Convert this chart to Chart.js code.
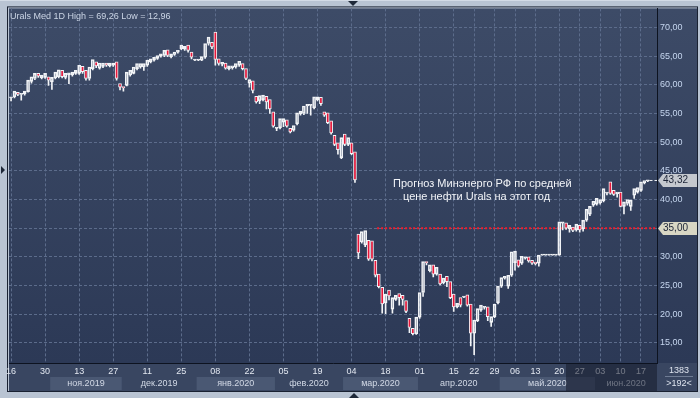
<!DOCTYPE html>
<html>
<head>
<meta charset="utf-8">
<script src="https://cdn.jsdelivr.net/npm/chart.js@4.4.1/dist/chart.umd.min.js"></script>
<style>
html, body { margin: 0; padding: 0; background: #b9c4d3; }
canvas { display: block; }
</style>
</head>
<body>
<canvas id="chart" width="700" height="398"></canvas>
<script>
// Urals Med, daily candles 16.10.2019 - 17.06.2020
var opens = [
  57.7, 57.9, 58.7, 58.3, 58.4, 58.8, 60.6, 61.1, 62.0, 61.2,
  61.3, 61.4, 60.5, 61.2, 61.4, 62.5, 61.3, 61.7, 61.7, 62.0,
  62.0, 63.2, 62.5, 61.1, 62.8, 64.0, 62.9, 63.2, 63.8, 63.3,
  63.4, 64.0, 60.2, 59.7, 59.9, 61.7, 62.0, 62.8, 63.1, 63.1,
  63.4, 64.0, 64.3, 64.6, 65.0, 65.1, 66.1, 64.9, 65.3, 65.7,
  66.3, 66.2, 66.9, 65.7, 64.3, 64.3, 64.3, 64.8, 67.2, 67.4,
  69.2, 64.5, 63.6, 63.8, 62.8, 63.0, 63.1, 63.4, 63.7, 62.8,
  60.3, 60.7, 58.0, 57.2, 57.4, 58.0, 57.4, 55.3, 52.4, 52.5,
  53.5, 53.9, 52.4, 52.1, 53.2, 54.9, 55.0, 56.3, 56.4, 56.0,
  57.4, 57.8, 55.3, 55.1, 53.7, 51.2, 49.9, 47.3, 51.4, 49.6,
  49.9, 48.3, 34.0, 32.6, 32.1, 32.9, 32.8, 29.4, 27.0, 24.7,
  22.0, 24.2, 20.9, 22.6, 23.6, 23.3, 22.4, 19.3, 17.55, 16.6,
  19.5, 23.8, 29.1, 27.6, 28.6, 27.0, 27.0, 25.5, 26.6, 25.7,
  23.5, 21.3, 22.9, 23.0, 23.4, 21.8, 16.7, 18.9, 20.7, 21.2,
  21.3, 18.6, 19.6, 22.0, 24.9, 26.3, 24.9, 26.8, 29.0, 29.5,
  28.9, 29.8, 30.0, 29.4, 29.1, 28.9, 30.3, 30.3, 30.3, 30.3,
  30.3, 30.3, 35.9, 35.95, 34.9, 35.2, 34.7, 35.5, 34.9, 36.4,
  37.45, 39.0, 39.2, 39.4, 39.8, 41.1, 43.1, 41.6, 41.0, 41.3,
  38.8, 39.3, 38.8, 40.75, 41.3, 41.6, 42.9, 43.25
];
var highs = [
  58.2, 59.1, 59.0, 58.8, 59.2, 61.0, 61.7, 62.3, 62.2, 62.0,
  62.3, 61.6, 61.5, 62.4, 62.9, 62.8, 62.2, 62.3, 62.5, 62.8,
  63.8, 63.5, 62.7, 63.3, 64.6, 64.2, 64.1, 64.0, 64.0, 64.0,
  64.5, 64.5, 60.4, 59.9, 62.4, 62.8, 63.4, 64.0, 63.9, 63.9,
  64.6, 64.8, 65.1, 65.4, 65.7, 66.2, 66.3, 65.6, 65.9, 66.2,
  67.1, 67.0, 67.2, 65.9, 64.5, 64.5, 65.1, 68.0, 69.0, 67.8,
  69.26, 64.8, 64.1, 64.0, 63.5, 63.5, 63.9, 64.4, 63.9, 63.0,
  61.0, 60.9, 58.2, 58.6, 58.8, 58.2, 57.6, 55.5, 52.7, 54.3,
  55.1, 54.1, 52.6, 53.2, 55.3, 55.6, 56.5, 56.8, 56.7, 58.1,
  58.6, 58.0, 55.5, 55.3, 53.9, 51.4, 50.0, 51.0, 51.8, 51.0,
  50.1, 48.5, 34.7, 35.0, 36.2, 33.2, 33.0, 29.6, 28.3, 24.9,
  23.8, 26.5, 23.1, 24.2, 24.2, 23.9, 22.6, 19.7, 17.7, 19.7,
  24.0, 30.1, 29.3, 29.4, 29.2, 29.4, 29.4, 26.5, 27.4, 25.9,
  23.7, 22.1, 23.3, 23.2, 23.8, 22.0, 19.2, 21.2, 21.8, 21.5,
  21.5, 19.8, 22.0, 25.1, 26.8, 26.8, 27.0, 31.1, 31.2, 29.7,
  30.6, 30.2, 30.2, 29.6, 29.3, 30.5, 30.3, 30.3, 30.3, 30.3,
  30.3, 36.1, 36.4, 36.2, 35.7, 35.4, 35.9, 35.8, 36.6, 38.5,
  39.0, 39.9, 40.4, 40.3, 42.7, 42.2, 43.4, 41.8, 41.6, 41.5,
  39.8, 40.0, 40.1, 42.1, 42.2, 43.3, 43.8, 44.4
];
var lows = [
  57.2, 57.7, 58.1, 57.3, 58.2, 58.7, 60.3, 60.9, 61.3, 61.0,
  61.1, 59.9, 59.2, 61.0, 61.2, 61.2, 61.0, 60.2, 61.5, 61.8,
  61.8, 62.0, 60.8, 60.8, 62.6, 63.0, 62.7, 63.0, 63.2, 63.1,
  63.2, 60.8, 59.1, 58.9, 59.8, 61.5, 61.9, 62.6, 62.9, 62.5,
  63.2, 63.8, 64.1, 64.4, 64.8, 64.9, 64.9, 64.7, 65.1, 65.5,
  66.1, 66.0, 65.7, 64.5, 64.2, 64.2, 64.2, 64.6, 66.9, 66.3,
  63.4, 63.4, 63.3, 62.7, 62.6, 62.7, 62.9, 63.2, 62.6, 60.9,
  59.6, 58.6, 56.8, 56.7, 57.2, 55.8, 55.0, 52.6, 52.0, 52.3,
  52.7, 52.6, 51.6, 51.9, 53.0, 54.7, 54.8, 55.0, 54.7, 55.8,
  57.2, 56.4, 54.5, 53.2, 51.4, 49.4, 47.9, 47.1, 49.4, 49.4,
  47.8, 43.0, 29.7, 32.4, 31.8, 29.4, 29.3, 26.5, 24.6, 20.2,
  20.1, 22.5, 20.2, 22.4, 21.6, 21.6, 20.3, 16.8, 16.4, 16.5,
  19.3, 23.1, 28.6, 27.4, 26.5, 26.8, 25.1, 25.3, 24.8, 22.7,
  20.5, 21.1, 21.3, 22.9, 21.4, 14.5, 12.96, 18.7, 20.5, 20.9,
  18.9, 17.9, 19.4, 21.8, 24.7, 26.1, 24.5, 26.6, 27.7, 28.2,
  28.7, 29.6, 29.1, 28.7, 28.6, 28.4, 30.3, 30.3, 30.3, 30.3,
  30.3, 30.3, 34.7, 34.8, 34.3, 34.4, 34.5, 34.3, 34.5, 36.2,
  37.2, 38.8, 39.0, 39.2, 39.6, 40.8, 40.9, 40.7, 40.4, 38.7,
  37.5, 39.0, 38.1, 40.2, 41.1, 41.4, 42.7, 43.1
];
var closes = [
  57.9, 58.9, 58.3, 58.5, 58.9, 60.8, 61.4, 62.0, 61.5, 61.7,
  62.0, 60.8, 61.3, 62.2, 62.6, 61.4, 62.0, 62.1, 62.2, 62.5,
  63.4, 62.3, 61.1, 63.1, 64.4, 63.3, 63.8, 63.8, 63.4, 63.8,
  63.8, 61.1, 59.6, 59.5, 62.2, 62.5, 63.1, 63.7, 63.7, 63.7,
  64.3, 64.5, 64.8, 65.1, 65.4, 66.0, 65.1, 65.4, 65.7, 66.0,
  66.9, 66.7, 66.0, 64.8, 64.4, 64.4, 64.9, 67.2, 68.3, 66.6,
  64.4, 63.7, 63.9, 62.9, 63.3, 63.3, 63.7, 64.1, 62.8, 61.1,
  60.9, 59.0, 57.0, 58.1, 58.2, 57.0, 55.8, 52.8, 52.6, 54.1,
  54.1, 52.8, 51.8, 52.9, 55.1, 55.4, 56.3, 56.6, 56.5, 57.9,
  57.9, 56.7, 54.7, 53.4, 51.6, 49.6, 48.7, 50.8, 49.6, 50.8,
  48.0, 43.4, 30.7, 34.4, 34.6, 29.6, 29.6, 26.8, 24.8, 21.8,
  23.5, 23.2, 22.9, 23.3, 22.9, 22.6, 20.5, 17.7, 16.6, 19.5,
  23.8, 29.2, 29.0, 28.6, 27.0, 28.2, 25.3, 26.3, 25.7, 22.9,
  21.3, 21.9, 21.6, 23.1, 21.6, 16.7, 19.0, 21.0, 21.6, 21.3,
  19.6, 19.6, 21.8, 24.9, 26.4, 26.6, 26.8, 30.9, 31.0, 28.4,
  30.1, 30.0, 29.3, 28.9, 28.8, 30.3, 30.3, 30.3, 30.3, 30.3,
  30.3, 36.1, 36.1, 35.0, 35.5, 34.6, 35.7, 34.7, 36.4, 38.3,
  38.8, 39.7, 40.2, 40.0, 41.9, 41.3, 41.05, 40.9, 41.3, 38.8,
  39.6, 40.0, 39.9, 41.9, 42.1, 43.1, 43.3, 43.32
];

// date ticks (bar index -> day of month)
var dayTickIndex = [0, 10, 20, 30, 40, 50, 60, 70, 80, 90, 100, 110, 120, 130, 136, 142, 148, 154, 161, 167, 173, 179, 185];
var dayTickLabels = ['16', '30', '13', '27', '11', '25', '08', '22', '05', '19', '04', '18', '01', '15', '22', '29', '06', '13', '20', '27', '03', '10', '17'];
var monthStart = [11.5, 32.5, 54.5, 77.5, 97.5, 119.5, 143.5, 171.5];
var monthNames = ['ноя.2019', 'дек.2019', 'янв.2020', 'фев.2020', 'мар.2020', 'апр.2020', 'май.2020', 'июн.2020'];
var priceTicks = [15, 20, 25, 30, 35, 40, 45, 50, 55, 60, 65, 70];

var forecastValue = 35;   // прогноз Минэнерго
var forecastFrom = 107.5;
var lastPrice = 43.32;

var RED = '#e8173a';
var WHITE = '#f2f4f7';

var bodies = [], upperWicks = [], lowerWicks = [], bodyColors = [];
for (var i = 0; i < closes.length; i++) {
  var top = Math.max(opens[i], closes[i]);
  var bot = Math.min(opens[i], closes[i]);
  bodies.push({ x: i, y: [opens[i], closes[i]] });
  upperWicks.push({ x: i, y: [top, highs[i]] });
  lowerWicks.push({ x: i, y: [lows[i], bot] });
  bodyColors.push(closes[i] < opens[i] ? RED : 'rgba(0,0,0,0)');
}

function fmt(v) {
  return v.toFixed(2).replace('.', ',');
}

var xMin = -0.6, xMax = 189.7;

var panelPlugin = {
  id: 'panel',
  beforeDraw: function (chart) {
    var ctx = chart.ctx, a = chart.chartArea;
    var xs = chart.scales.x, ys = chart.scales.y;
    ctx.save();
    ctx.fillStyle = '#b9c4d3';
    ctx.fillRect(0, 0, chart.width, chart.height);
    ctx.fillStyle = '#d3dbe6';
    ctx.fillRect(0, 0, chart.width, 1);

    var g = ctx.createLinearGradient(0, a.top, 0, a.bottom);
    g.addColorStop(0, '#3d4b67');
    g.addColorStop(1, '#2c3956');
    ctx.fillStyle = g;
    ctx.fillRect(a.left, a.top, ys.right - a.left, a.bottom - a.top);
    ctx.fillStyle = '#394661';
    ctx.fillRect(a.left, a.bottom, ys.right - a.left, xs.bottom - a.bottom);

    // month bands
    ctx.font = '9px "Liberation Sans", Arial, sans-serif';
    ctx.textAlign = 'center';
    ctx.textBaseline = 'middle';
    for (var k = 0; k < monthStart.length; k++) {
      var x0 = xs.getPixelForValue(monthStart[k]);
      var x1 = k + 1 < monthStart.length ? xs.getPixelForValue(monthStart[k + 1]) : a.right;
      if (k % 2 === 0) {
        ctx.fillStyle = '#4a5873';
        ctx.fillRect(x0, a.bottom + 14, x1 - x0, 13);
      }
      ctx.fillStyle = '#d2d9e6';
      ctx.fillText(monthNames[k], (x0 + x1) / 2, a.bottom + 21);
    }

    // frame
    ctx.strokeStyle = '#1a2232';
    ctx.lineWidth = 1;
    ctx.strokeRect(a.left - 1.5, a.top - 1.5, ys.right - a.left + 2, xs.bottom - a.top + 2);
    ctx.restore();
  },
  afterDraw: function (chart) {
    var ctx = chart.ctx, a = chart.chartArea;
    var xs = chart.scales.x, ys = chart.scales.y;
    ctx.save();

    // dimmed part of the time axis
    ctx.fillStyle = 'rgba(22,28,44,0.55)';
    ctx.fillRect(566, a.bottom + 1, a.right - 566, xs.bottom - a.bottom - 1);

    // title
    ctx.font = '9px "Liberation Sans", Arial, sans-serif';
    ctx.textAlign = 'left';
    ctx.textBaseline = 'alphabetic';
    ctx.fillStyle = '#cbd5e5';
    ctx.fillText('Urals Med 1D High = 69,26 Low = 12,96', a.left + 1, 19);

    // annotation
    ctx.font = '11px "Liberation Sans", Arial, sans-serif';
    ctx.fillStyle = '#f2f4f8';
    ctx.fillText('Прогноз Минэнерго РФ по средней', 393, 187);
    ctx.fillText('цене нефти Urals на этот год', 403, 200);

    // price boxes on the axis
    function box(v, fill) {
      var yy = Math.round(ys.getPixelForValue(v)) + 0.5;
      ctx.beginPath();
      ctx.moveTo(a.right + 1, yy);
      ctx.lineTo(a.right + 6, yy - 6.5);
      ctx.lineTo(ys.right, yy - 6.5);
      ctx.lineTo(ys.right, yy + 6.5);
      ctx.lineTo(a.right + 6, yy + 6.5);
      ctx.closePath();
      ctx.fillStyle = fill;
      ctx.fill();
      ctx.font = '10px "Liberation Sans", Arial, sans-serif';
      ctx.fillStyle = '#1b2336';
      ctx.textBaseline = 'middle';
      ctx.fillText(fmt(v), a.right + 6, yy);
    }
    box(lastPrice, '#c4c8ce');
    box(forecastValue, '#d9d7c4');

    // bars counter
    ctx.font = '9px "Liberation Sans", Arial, sans-serif';
    ctx.textAlign = 'center';
    ctx.fillStyle = '#dde3ee';
    ctx.fillText('1383', 679, a.bottom + 8);
    ctx.fillText('>192<', 679, a.bottom + 21);
    ctx.strokeStyle = '#6f7c94';
    ctx.beginPath();
    ctx.moveTo(665, a.bottom + 13.5);
    ctx.lineTo(693, a.bottom + 13.5);
    ctx.stroke();

    // frame markers
    ctx.fillStyle = '#1e2838';
    ctx.beginPath();
    ctx.moveTo(348, 1); ctx.lineTo(358, 1); ctx.lineTo(353, 6); ctx.closePath(); ctx.fill();
    ctx.beginPath();
    ctx.moveTo(349, 398); ctx.lineTo(359, 398); ctx.lineTo(354, 393); ctx.closePath(); ctx.fill();
    ctx.beginPath();
    ctx.moveTo(1, 166); ctx.lineTo(5, 170); ctx.lineTo(1, 174); ctx.closePath(); ctx.fill();
    ctx.restore();
  }
};

var ctx = document.getElementById('chart');
new Chart(ctx, {
  type: 'bar',
  data: {
    datasets: [
      {
        type: 'line',
        data: [{ x: forecastFrom, y: forecastValue }, { x: xMax, y: forecastValue }],
        borderColor: '#f01c2c',
        borderWidth: 2,
        borderDash: [2, 2],
        pointRadius: 0,
        order: 3
      },
      {
        type: 'line',
        data: [{ x: closes.length - 0.5, y: lastPrice }, { x: xMax, y: lastPrice }],
        borderColor: WHITE,
        borderWidth: 1,
        borderDash: [3, 2],
        pointRadius: 0,
        order: 3
      },
      { data: upperWicks, backgroundColor: WHITE, barThickness: 1, grouped: false, order: 2 },
      { data: lowerWicks, backgroundColor: WHITE, barThickness: 1, grouped: false, order: 2 },
      {
        data: bodies,
        backgroundColor: bodyColors,
        borderColor: WHITE,
        borderWidth: 1,
        borderSkipped: false,
        barThickness: 3,
        minBarLength: 1,
        grouped: false,
        order: 1
      }
    ]
  },
  options: {
    responsive: false,
    devicePixelRatio: 1,
    animation: false,
    layout: { padding: { left: 9, top: 8, right: 3, bottom: 7 } },
    plugins: {
      legend: { display: false },
      tooltip: { enabled: false }
    },
    font: { family: '"Liberation Sans", Arial, sans-serif' },
    scales: {
      x: {
        type: 'linear',
        offset: false,
        min: xMin,
        max: xMax,
        afterBuildTicks: function (scale) {
          scale.ticks = dayTickIndex.map(function (v) { return { value: v }; });
        },
        afterFit: function (scale) { scale.height = 28; },
        ticks: {
          autoSkip: false,
          maxRotation: 0,
          padding: 3,
          color: '#e2e7f0',
          font: { size: 9, family: '"Liberation Sans", Arial, sans-serif' },
          callback: function (v) {
            var k = dayTickIndex.indexOf(v);
            return k >= 0 ? dayTickLabels[k] : '';
          }
        },
        grid: { color: '#5c6c8b', drawTicks: false, lineWidth: 1, offset: false },
        border: { color: '#0d1320', width: 1, dash: [3, 2] }
      },
      y: {
        position: 'right',
        min: 11.51,
        max: 73.31,
        afterBuildTicks: function (scale) {
          scale.ticks = priceTicks.map(function (v) { return { value: v }; });
        },
        afterFit: function (scale) { scale.width = 40; },
        ticks: {
          padding: 3,
          color: '#c6d6ef',
          font: { size: 9, family: '"Liberation Sans", Arial, sans-serif' },
          callback: function (v) { return fmt(v); }
        },
        grid: { color: '#5c6c8b', drawTicks: false, lineWidth: 1 },
        border: { color: '#0d1320', width: 1, dash: [3, 2] }
      }
    }
  },
  plugins: [panelPlugin]
});
</script>
</body>
</html>
